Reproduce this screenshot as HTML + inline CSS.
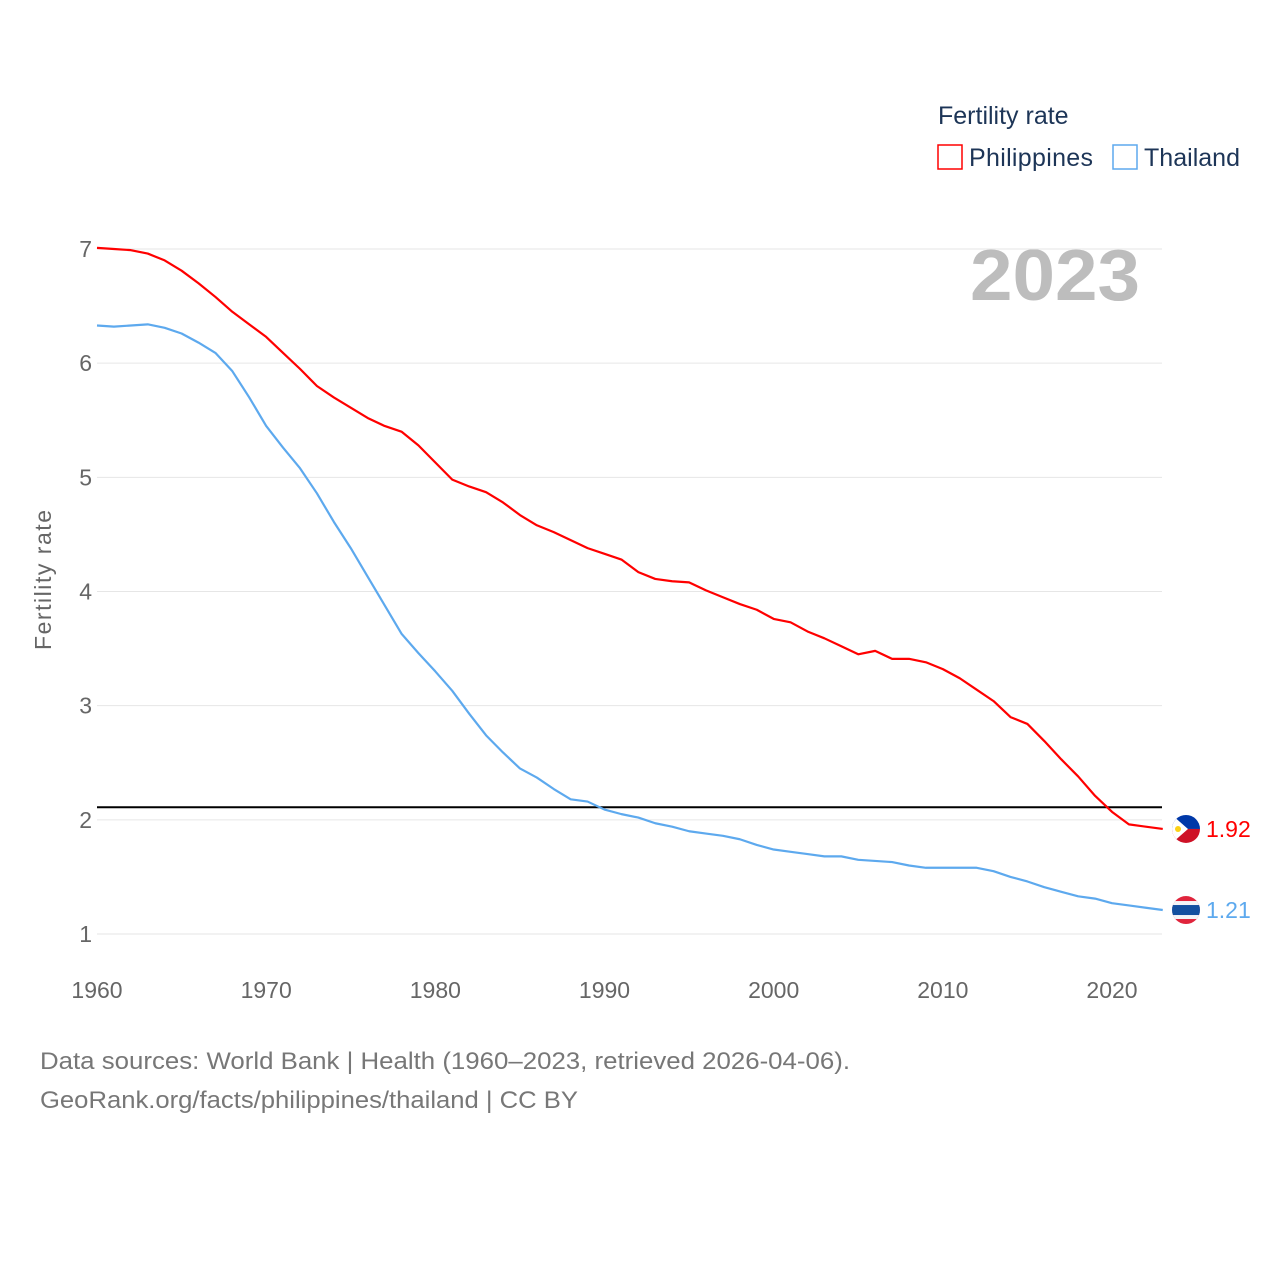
<!DOCTYPE html>
<html><head><meta charset="utf-8"><style>
body{margin:0;background:#fff;font-family:"Liberation Sans",sans-serif;}
svg text{font-family:"Liberation Sans",sans-serif;}
</style></head><body>
<svg width="1280" height="1280" xmlns="http://www.w3.org/2000/svg" id="chart">
<g>
<text x="938" y="124" font-size="25" fill="#1d3557">Fertility rate</text>
<rect x="938" y="145" width="24" height="24" fill="none" stroke="#f00" stroke-width="1.5"/>
<text x="969" y="166" font-size="25" fill="#1d3557" textLength="124">Philippines</text>
<rect x="1113" y="145" width="24" height="24" fill="none" stroke="#5da9ee" stroke-width="1.5"/>
<text x="1144" y="166" font-size="25" fill="#1d3557" textLength="96">Thailand</text>
</g>
<text x="970" y="300" font-size="72" font-weight="bold" fill="#bdbdbd" textLength="170" lengthAdjust="spacingAndGlyphs">2023</text>
<g id="grid"></g>
<g id="yticks"></g>
<g id="xticks"></g>
<text transform="translate(51,580) rotate(-90)" font-size="23" fill="#666" text-anchor="middle" textLength="140">Fertility rate</text>
<g id="series"></g>
<text x="40" y="1069" font-size="24" fill="#777" textLength="810" lengthAdjust="spacingAndGlyphs">Data sources: World Bank | Health (1960–2023, retrieved 2026-04-06).</text>
<text x="40" y="1108" font-size="24" fill="#777" textLength="538" lengthAdjust="spacingAndGlyphs">GeoRank.org/facts/philippines/thailand | CC BY</text>
</svg>
<script>
const years=[];for(let y=1960;y<=2023;y++)years.push(y);
const philippines=[7.01,7.00,6.99,6.96,6.90,6.81,6.70,6.58,6.45,6.34,6.23,6.09,5.95,5.80,5.70,5.61,5.52,5.45,5.40,5.28,5.13,4.98,4.92,4.87,4.78,4.67,4.58,4.52,4.45,4.38,4.33,4.28,4.17,4.11,4.09,4.08,4.01,3.95,3.89,3.84,3.76,3.73,3.65,3.59,3.52,3.45,3.48,3.41,3.41,3.38,3.32,3.24,3.14,3.04,2.90,2.84,2.69,2.53,2.38,2.21,2.07,1.96,1.94,1.92];
const thailand=[6.33,6.32,6.33,6.34,6.31,6.26,6.18,6.09,5.93,5.70,5.45,5.26,5.08,4.86,4.61,4.38,4.13,3.88,3.63,3.46,3.30,3.13,2.93,2.74,2.59,2.45,2.37,2.27,2.18,2.16,2.09,2.05,2.02,1.97,1.94,1.90,1.88,1.86,1.83,1.78,1.74,1.72,1.70,1.68,1.68,1.65,1.64,1.63,1.60,1.58,1.58,1.58,1.58,1.55,1.50,1.46,1.41,1.37,1.33,1.31,1.27,1.25,1.23,1.21];
const yTicks=[1,2,3,4,5,6,7];
const xTicks=[1960,1970,1980,1990,2000,2010,2020];
const replacementRate=2.11;
const NS="http://www.w3.org/2000/svg";
const X=v=>97+(v-1960)*(1112-97)/60;
const Y=v=>934-(v-1)*(934-249)/6;
function mk(tag,attrs,parent){const e=document.createElementNS(NS,tag);for(const k in attrs)e.setAttribute(k,attrs[k]);parent.appendChild(e);return e;}
const grid=document.getElementById('grid'),yt=document.getElementById('yticks'),xt=document.getElementById('xticks'),ser=document.getElementById('series');
yTicks.forEach(t=>{
 const l=mk('line',{x1:97,x2:1162,y1:Y(t),y2:Y(t),stroke:'#e6e6e6','stroke-width':1},grid);
 
 
 const tx=mk('text',{x:92,y:Y(t)+8,'font-size':23,fill:'#666','text-anchor':'end'},yt);tx.textContent=t;
 
 
});
xTicks.forEach(t=>{
 const tx=mk('text',{x:X(t),y:998,'font-size':23,fill:'#666','text-anchor':'middle'},xt);tx.textContent=t;
 
 
});
const rl=mk('line',{x1:97,x2:1162,y1:Y(replacementRate),y2:Y(replacementRate),stroke:'#000','stroke-width':2},ser);


function line(vals,color,name){
 const p=mk('polyline',{points:vals.map((v,i)=>X(years[i])+','+Y(v)).join(' '),fill:'none',stroke:color,'stroke-width':2.2,'stroke-linejoin':'round'},ser);
 
 
 const last=vals[vals.length-1],cy=Y(last),cx=1186;
 const g=mk('g',{},ser);
 
 
 mk('clipPath',{id:'c'+name},g).appendChild(document.createElementNS(NS,'circle')).setAttribute('r',14);
 g.lastChild.lastChild.setAttribute('cx',cx);g.lastChild.lastChild.setAttribute('cy',cy);
 const f=mk('g',{'clip-path':'url(#c'+name+')'},g);
 if(name==='philippines'){
  mk('rect',{x:cx-14,y:cy-14,width:28,height:14,fill:'#0038a8'},f);
  mk('rect',{x:cx-14,y:cy,width:28,height:14,fill:'#ce1126'},f);
  mk('polygon',{points:`${cx-14},${cy-14} ${cx+2},${cy} ${cx-14},${cy+14}`,fill:'#fff'},f);
  mk('circle',{cx:cx-8,cy:cy,r:3,fill:'#fcd116'},f);
 }else{
  mk('rect',{x:cx-14,y:cy-14,width:28,height:28,fill:'#e0243c'},f);
  mk('rect',{x:cx-14,y:cy-9,width:28,height:18,fill:'#f4f5f8'},f);
  mk('rect',{x:cx-14,y:cy-5,width:28,height:10,fill:'#1450a0'},f);
 }
 const t=mk('text',{x:1206,y:cy+8,'font-size':23,fill:color},ser);t.textContent=last.toFixed(2);
 
 
}
line(philippines,'#ff0000','philippines');
line(thailand,'#5da9ee','thailand');
</script>
</body></html>
